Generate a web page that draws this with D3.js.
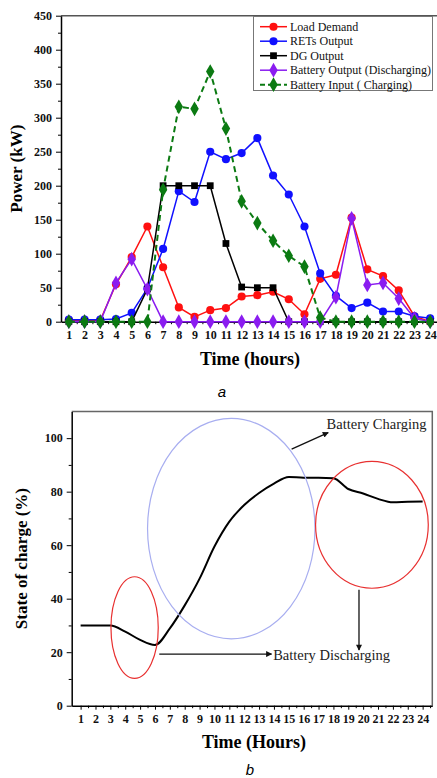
<!DOCTYPE html>
<html lang="en">
<head>
    <meta charset="UTF-8">
    <title>Power and state of charge</title>
    <script src="https://d3js.org/d3.v7.min.js"></script>
    <style>
        body { margin: 0; background: #fff; }
        svg text { font-family: "Liberation Serif", "Times New Roman", serif; }
    </style>
</head>
<body>
<svg id="chart" width="437" height="778"></svg>
<script>
    // hours shared by both charts
    const hours = d3.range(1, 25);

    // chart a - power (kW)
    const loadDemand  = [2, 2, 2, 55, 95, 140, 80, 21, 7, 17, 20, 37, 39, 44, 33, 11, 63, 69, 153, 77, 67, 46, 8, 0];
    const retsOutput  = [3, 3, 3, 4, 13, 49, 107, 192, 176, 250, 239, 248, 270, 215, 187, 140, 71, 38, 20, 28, 15, 15, 8, 5];
    const dgOutput    = [0, 0, 0, 0, 0, 48, 200, 200, 200, 200, 115, 51, 50, 50, 0, 0, 0, 0, 0, 0, 0, 0, 0, 0];
    const battOutput  = [0, 0, 0, 57, 92, 48, 0, 0, 0, 0, 0, 0, 0, 0, 0, 0, 0, 36, 152, 54, 57, 34, 5, 0];
    const battInput   = [0, 0, 0, 0, 0, 0, 194, 316, 313, 368, 284, 177, 145, 119, 97, 81, 6, 0, 0, 0, 0, 0, 0, 0];
    const powerTicks  = [0, 50, 100, 150, 200, 250, 300, 350, 400, 450];

    // chart b - state of charge (%)
    const soc       = [30, 30, 30, 27.7, 24.6, 22.7, 28.9, 37.5, 47.5, 59.5, 68.8, 75, 79.5, 83, 85.5, 85.2, 85.2, 85, 81, 79.3, 77.3, 76, 76.2, 76.3];
    const socTicks  = [0, 20, 40, 60, 80, 100];

    const svg = d3.select("#chart");

    // ---------- chart a ----------
    const x1 = d3.scaleLinear().domain([0.5, 24.5]).range([61, 438]);
    const y1 = d3.scaleLinear().domain([0, 450]).range([321.7, 15.7]);

    const a = svg.append("g");

    // frame (top / right)
    a.append("path")
        .attr("d", `M${x1(0.5)},${y1(450)}H${x1(24.5)}V${y1(0)}`)
        .attr("fill", "none").attr("stroke", "#555").attr("stroke-width", 1.5);

    // y axis
    a.append("g")
        .attr("transform", `translate(${x1(0.5)},0)`)
        .call(d3.axisLeft(y1).tickValues(d3.range(0, 451, 25)).tickSize(0).tickFormat(""))
        .call(g => g.selectAll(".tick line").attr("x2", d => d % 50 ? -3 : -5))
        .call(g => g.select(".domain").attr("stroke-width", 1.5));
    a.append("g")
        .attr("transform", `translate(${x1(0.5)},0)`)
        .call(d3.axisLeft(y1).tickValues(powerTicks).tickSize(0).tickPadding(9))
        .call(g => g.select(".domain").remove())
        .selectAll("text")
        .attr("font-family", "Liberation Serif").attr("font-weight", "bold").attr("font-size", 12).attr("fill", "#111");

    // x axis
    a.append("g")
        .attr("transform", `translate(0,${y1(0)})`)
        .call(d3.axisBottom(x1).tickValues(d3.range(1, 24.6, 0.5)).tickSize(0).tickFormat(""))
        .call(g => g.selectAll(".tick line").attr("y2", d => d % 1 ? 2.5 : 4))
        .call(g => g.select(".domain").attr("stroke-width", 1.5));
    a.append("g")
        .attr("transform", `translate(0,${y1(0)})`)
        .call(d3.axisBottom(x1).tickValues(hours).tickSize(0).tickPadding(9))
        .call(g => g.select(".domain").remove())
        .selectAll("text")
        .attr("font-family", "Liberation Serif").attr("font-weight", "bold").attr("font-size", 12).attr("fill", "#111");

    a.append("text")
        .attr("transform", `translate(22,${(y1(0) + y1(450)) / 2}) rotate(-90)`)
        .attr("text-anchor", "middle")
        .attr("font-weight", "bold").attr("font-size", 17)
        .text("Power (kW)");
    a.append("text")
        .attr("x", 250).attr("y", 365)
        .attr("text-anchor", "middle")
        .attr("font-weight", "bold").attr("font-size", 18)
        .text("Time (hours)");
    a.append("text")
        .attr("x", 222).attr("y", 397)
        .attr("text-anchor", "middle")
        .style("font-family", "'Liberation Sans', Arial, sans-serif")
        .attr("font-style", "italic").attr("font-size", 15)
        .text("a");

    const series = [
        { name: "Load Demand", values: loadDemand, color: "#ff1010", shape: "circle", dash: null },
        { name: "RETs Output", values: retsOutput, color: "#1010ff", shape: "circle", dash: null },
        { name: "DG Output", values: dgOutput, color: "#000000", shape: "square", dash: null },
        { name: "Battery Output (Discharging)", values: battOutput, color: "#8a1cf0", shape: "diamond", dash: null },
        { name: "Battery Input ( Charging)", values: battInput, color: "#0b7a12", shape: "diamond", dash: "6,4" }
    ];

    const symbolOf = s => s.shape === "circle" ? d3.symbol(d3.symbolCircle, 52)
        : s.shape === "square" ? d3.symbol(d3.symbolSquare, 46)
        : d3.symbol(d3.symbolDiamond, 62);

    const line1 = d3.line().x((d, i) => x1(hours[i])).y(d => y1(d));

    series.forEach(s => {
        a.append("path")
            .datum(s.values)
            .attr("fill", "none")
            .attr("stroke", s.color)
            .attr("stroke-width", s.dash ? 2 : 1.5)
            .attr("stroke-dasharray", s.dash)
            .attr("d", line1);
        a.selectAll(null)
            .data(s.values)
            .enter().append("path")
            .attr("transform", (d, i) => `translate(${x1(hours[i])},${y1(d)})`)
            .attr("d", symbolOf(s)())
            .attr("fill", s.color);
    });

    // legend
    const legend = a.append("g");
    legend.append("rect")
        .attr("x", 253.5).attr("y", 16.5).attr("width", 179).attr("height", 74)
        .attr("fill", "#fff").attr("stroke", "#777").attr("stroke-width", 1);
    series.forEach((s, i) => {
        const ly = 26.7 + i * 14.5;
        legend.append("line")
            .attr("x1", 260).attr("x2", 287).attr("y1", ly).attr("y2", ly)
            .attr("stroke", s.color).attr("stroke-width", s.dash ? 2 : 1.5)
            .attr("stroke-dasharray", s.dash ? "5,3" : null);
        legend.append("path")
            .attr("transform", `translate(273.5,${ly})`)
            .attr("d", symbolOf(s)())
            .attr("fill", s.color);
        legend.append("text")
            .attr("x", 290).attr("y", ly + 4)
            .attr("font-size", 12).attr("fill", "#111")
            .text(s.name);
    });

    // ---------- chart b ----------
    const x2 = d3.scaleLinear().domain([0.4, 24.65]).range([71.7, 432.3]);
    const y2 = d3.scaleLinear().domain([0, 110]).range([705.7, 411.4]);

    const b = svg.append("g");

    b.append("path")
        .attr("d", `M${x2(0.4)},${y2(110)}H${x2(24.65)}V${y2(0)}`)
        .attr("fill", "none").attr("stroke", "#666").attr("stroke-width", 1.5);

    b.append("g")
        .attr("transform", `translate(${x2(0.4)},0)`)
        .call(d3.axisLeft(y2).tickValues(d3.range(0, 101, 10)).tickSize(0).tickFormat(""))
        .call(g => g.selectAll(".tick line").attr("x2", d => d % 20 ? -3 : -5))
        .call(g => g.select(".domain").attr("stroke-width", 1.5));
    b.append("g")
        .attr("transform", `translate(${x2(0.4)},0)`)
        .call(d3.axisLeft(y2).tickValues(socTicks).tickSize(0).tickPadding(9))
        .call(g => g.select(".domain").remove())
        .selectAll("text")
        .attr("font-family", "Liberation Serif").attr("font-weight", "bold").attr("font-size", 12).attr("fill", "#111");

    b.append("g")
        .attr("transform", `translate(0,${y2(0)})`)
        .call(d3.axisBottom(x2).tickValues(d3.range(1, 24.6, 0.5)).tickSize(0).tickFormat(""))
        .call(g => g.selectAll(".tick line").attr("y2", d => d % 1 ? 2.5 : 4))
        .call(g => g.select(".domain").attr("stroke-width", 1.5));
    b.append("g")
        .attr("transform", `translate(0,${y2(0)})`)
        .call(d3.axisBottom(x2).tickValues(hours).tickSize(0).tickPadding(9))
        .call(g => g.select(".domain").remove())
        .selectAll("text")
        .attr("font-family", "Liberation Serif").attr("font-weight", "bold").attr("font-size", 12).attr("fill", "#111");

    b.append("text")
        .attr("transform", `translate(27,${(y2(0) + y2(110)) / 2}) rotate(-90)`)
        .attr("text-anchor", "middle")
        .attr("font-weight", "bold").attr("font-size", 17)
        .text("State of charge (%)");
    b.append("text")
        .attr("x", 254).attr("y", 748)
        .attr("text-anchor", "middle")
        .attr("font-weight", "bold").attr("font-size", 18)
        .text("Time (Hours)");
    b.append("text")
        .attr("x", 250).attr("y", 775)
        .attr("text-anchor", "middle")
        .style("font-family", "'Liberation Sans', Arial, sans-serif")
        .attr("font-style", "italic").attr("font-size", 15)
        .text("b");

    const line2 = d3.line().x((d, i) => x2(hours[i])).y(d => y2(d)).curve(d3.curveMonotoneX);
    b.append("path")
        .datum(soc)
        .attr("fill", "none").attr("stroke", "#000").attr("stroke-width", 2)
        .attr("d", line2);

    // ellipses marking regions (centre hour, centre %, half-width in hours, half-height in %)
    const rings = [
        { cx: 4.63, cy: 29.2, rx: 1.59, ry: 19, color: "#e83030" },
        { cx: 11.13, cy: 66.2, rx: 5.63, ry: 41.2, color: "#a8aef0" },
        { cx: 20.59, cy: 67.6, rx: 3.79, ry: 23.7, color: "#e83030" }
    ];
    rings.forEach(r => {
        b.append("ellipse")
            .attr("cx", x2(r.cx)).attr("cy", y2(r.cy))
            .attr("rx", x2(r.cx + r.rx) - x2(r.cx))
            .attr("ry", y2(r.cy) - y2(r.cy + r.ry))
            .attr("fill", "none").attr("stroke", r.color).attr("stroke-width", 1.2);
    });

    svg.append("defs").append("marker")
        .attr("id", "head")
        .attr("viewBox", "0 0 10 10")
        .attr("refX", 9).attr("refY", 5)
        .attr("markerWidth", 7).attr("markerHeight", 6)
        .attr("markerUnits", "userSpaceOnUse")
        .attr("orient", "auto")
        .append("path").attr("d", "M0,0L10,5L0,10z").attr("fill", "#111");

    const arrows = [
        [[15.19, 95.9], [17.65, 102.1]],
        [[6.29, 19.3], [13.84, 19.3]],
        [[19.72, 43.3], [19.72, 20.8]]
    ];
    arrows.forEach(p => {
        b.append("line")
            .attr("x1", x2(p[0][0])).attr("y1", y2(p[0][1]))
            .attr("x2", x2(p[1][0])).attr("y2", y2(p[1][1]))
            .attr("stroke", "#111").attr("stroke-width", 1.3)
            .attr("marker-end", "url(#head)");
    });

    b.append("text")
        .attr("x", x2(17.54)).attr("y", y2(103.3))
        .attr("font-size", 14.5).attr("fill", "#222")
        .text("Battery Charging");
    b.append("text")
        .attr("x", x2(13.95)).attr("y", y2(16.9))
        .attr("font-size", 14.5).attr("fill", "#222")
        .text("Battery Discharging");
</script>
</body>
</html>
